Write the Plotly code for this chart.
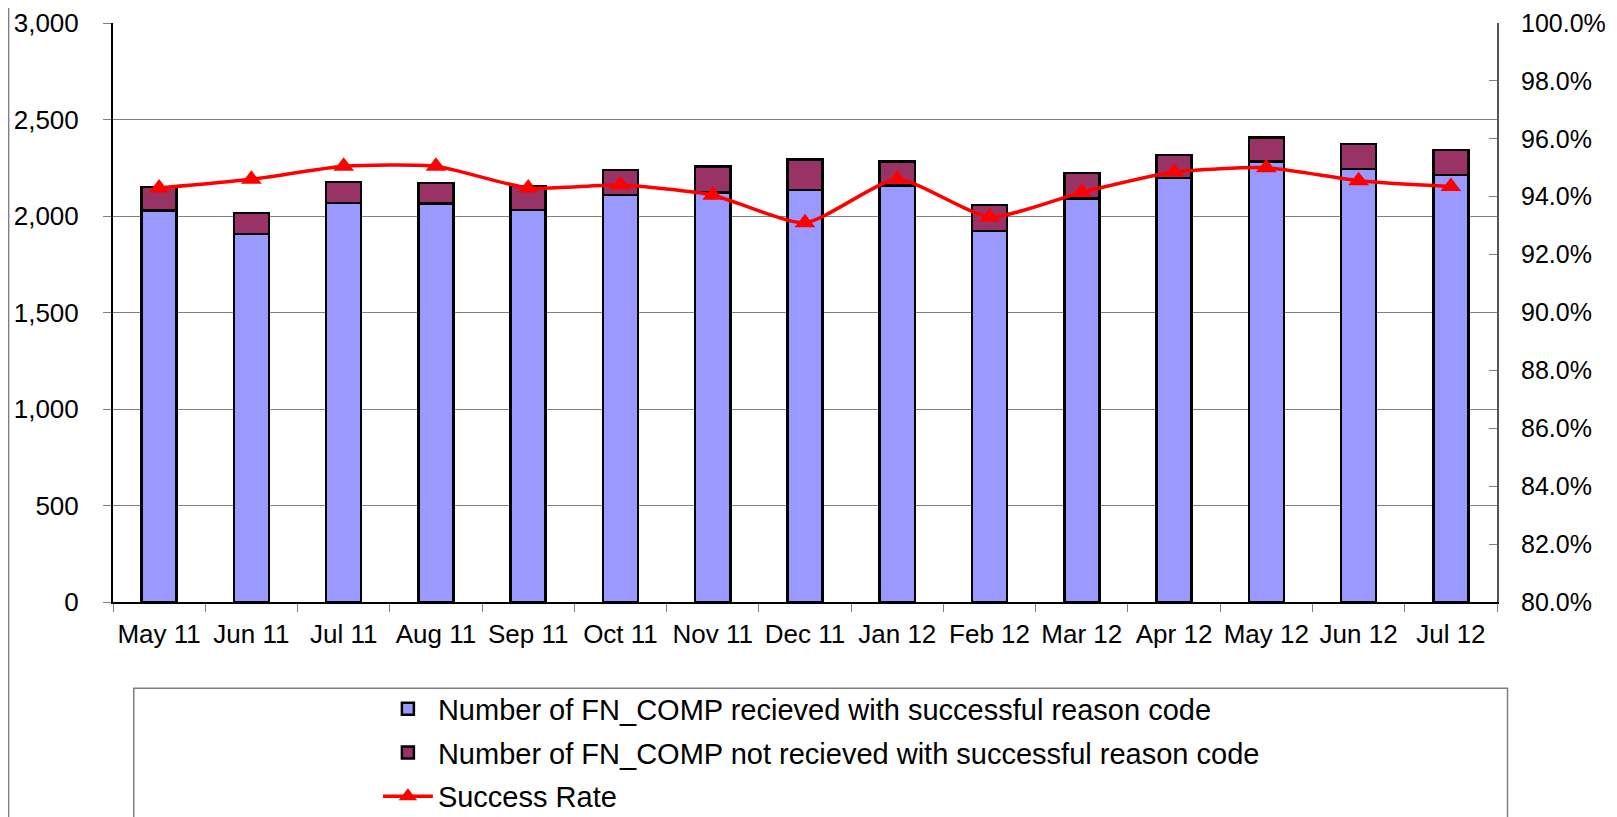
import plotly.graph_objects as go

# monthly counts of FN_COMP messages
months = ["May 11", "Jun 11", "Jul 11", "Aug 11", "Sep 11", "Oct 11", "Nov 11", "Dec 11",
          "Jan 12", "Feb 12", "Mar 12", "Apr 12", "May 12", "Jun 12", "Jul 12"]
received = [2028, 1906, 2068, 2065, 2032, 2110, 2122, 2136, 2158, 1923, 2090, 2196, 2282, 2243, 2213]
not_received = [123, 109, 107, 107, 124, 128, 134, 157, 124, 135, 132, 119, 125, 131, 130]
success_rate = [94.3, 94.6, 95.05, 95.05, 94.3, 94.4, 94.05, 93.1, 94.6, 93.3, 94.15, 94.85, 95.0, 94.55, 94.35]

FONT = "Liberation Sans, Arial, sans-serif"

fig = go.Figure()
fig.add_trace(go.Bar(
    x=months, y=received, name="Number of FN_COMP recieved with successful reason code",
    marker=dict(color="#9999FF", line=dict(color="black", width=2.5)),
    width=0.38, legendgroup="a",
))
fig.add_trace(go.Bar(
    x=months, y=not_received, name="Number of FN_COMP not recieved with successful reason code",
    marker=dict(color="#993366", line=dict(color="black", width=2.5)),
    width=0.38, legendgroup="b",
))
fig.add_trace(go.Scatter(
    x=months, y=success_rate, name="Success Rate", yaxis="y2",
    mode="lines+markers", line=dict(color="#FF0000", width=3.5, shape="spline", smoothing=0.6),
    marker=dict(symbol="triangle-up", size=18, color="#FF0000"),
    legendgroup="c",
))

# page body has an 8px margin, so the figure is a bit smaller than the window
fig.update_layout(
    width=1609, height=809,
    margin=dict(l=105, r=120, t=15, b=215, autoexpand=False),
    paper_bgcolor="white", plot_bgcolor="white",
    barmode="stack",
    font=dict(family=FONT, size=26, color="black"),
    showlegend=True,
    legend=dict(
        x=0.1914, y=-0.1406, xanchor="left", yanchor="top",
        traceorder="grouped", tracegroupgap=3, itemwidth=50,
        font=dict(size=29), bgcolor="rgba(0,0,0,0)",
    ),
    xaxis=dict(
        range=[-0.5, 14.5],
        showline=True, linecolor="black", linewidth=2,
        ticks="outside", tickson="boundaries", ticklen=8, tickcolor="#808080",
        showgrid=False, tickfont=dict(size=26), tickangle=0, ticklabelstandoff=8,
    ),
    yaxis=dict(
        range=[0, 3000], dtick=500, tickformat=",",
        showline=True, linecolor="black", linewidth=2,
        ticks="outside", ticklen=8, tickcolor="#808080",
        showgrid=True, gridcolor="#808080", gridwidth=1,
        ticklabelstandoff=19, zeroline=False, tickfont=dict(size=26),
    ),
    yaxis2=dict(
        range=[80, 100], dtick=2, tickformat=".1f", ticksuffix="%",
        overlaying="y", side="right",
        showline=True, linecolor="#555555", linewidth=2,
        ticks="inside", ticklen=8, tickcolor="#808080",
        showgrid=False, zeroline=False, ticklabelstandoff=17, tickfont=dict(size=25),
    ),
)

# legend frame and outer chart border
fig.add_shape(type="rect", xref="paper", yref="paper",
              x0=0.015, x1=1.0076, y0=-0.149, y1=-0.42,
              line=dict(color="#808080", width=1.5), fillcolor="rgba(0,0,0,0)", layer="below")
fig.add_shape(type="line", xref="paper", yref="paper",
              x0=-0.0754, x1=-0.0754, y0=-0.4, y1=1.05,
              line=dict(color="#808080", width=1.5))

fig.write_html("out.html")
